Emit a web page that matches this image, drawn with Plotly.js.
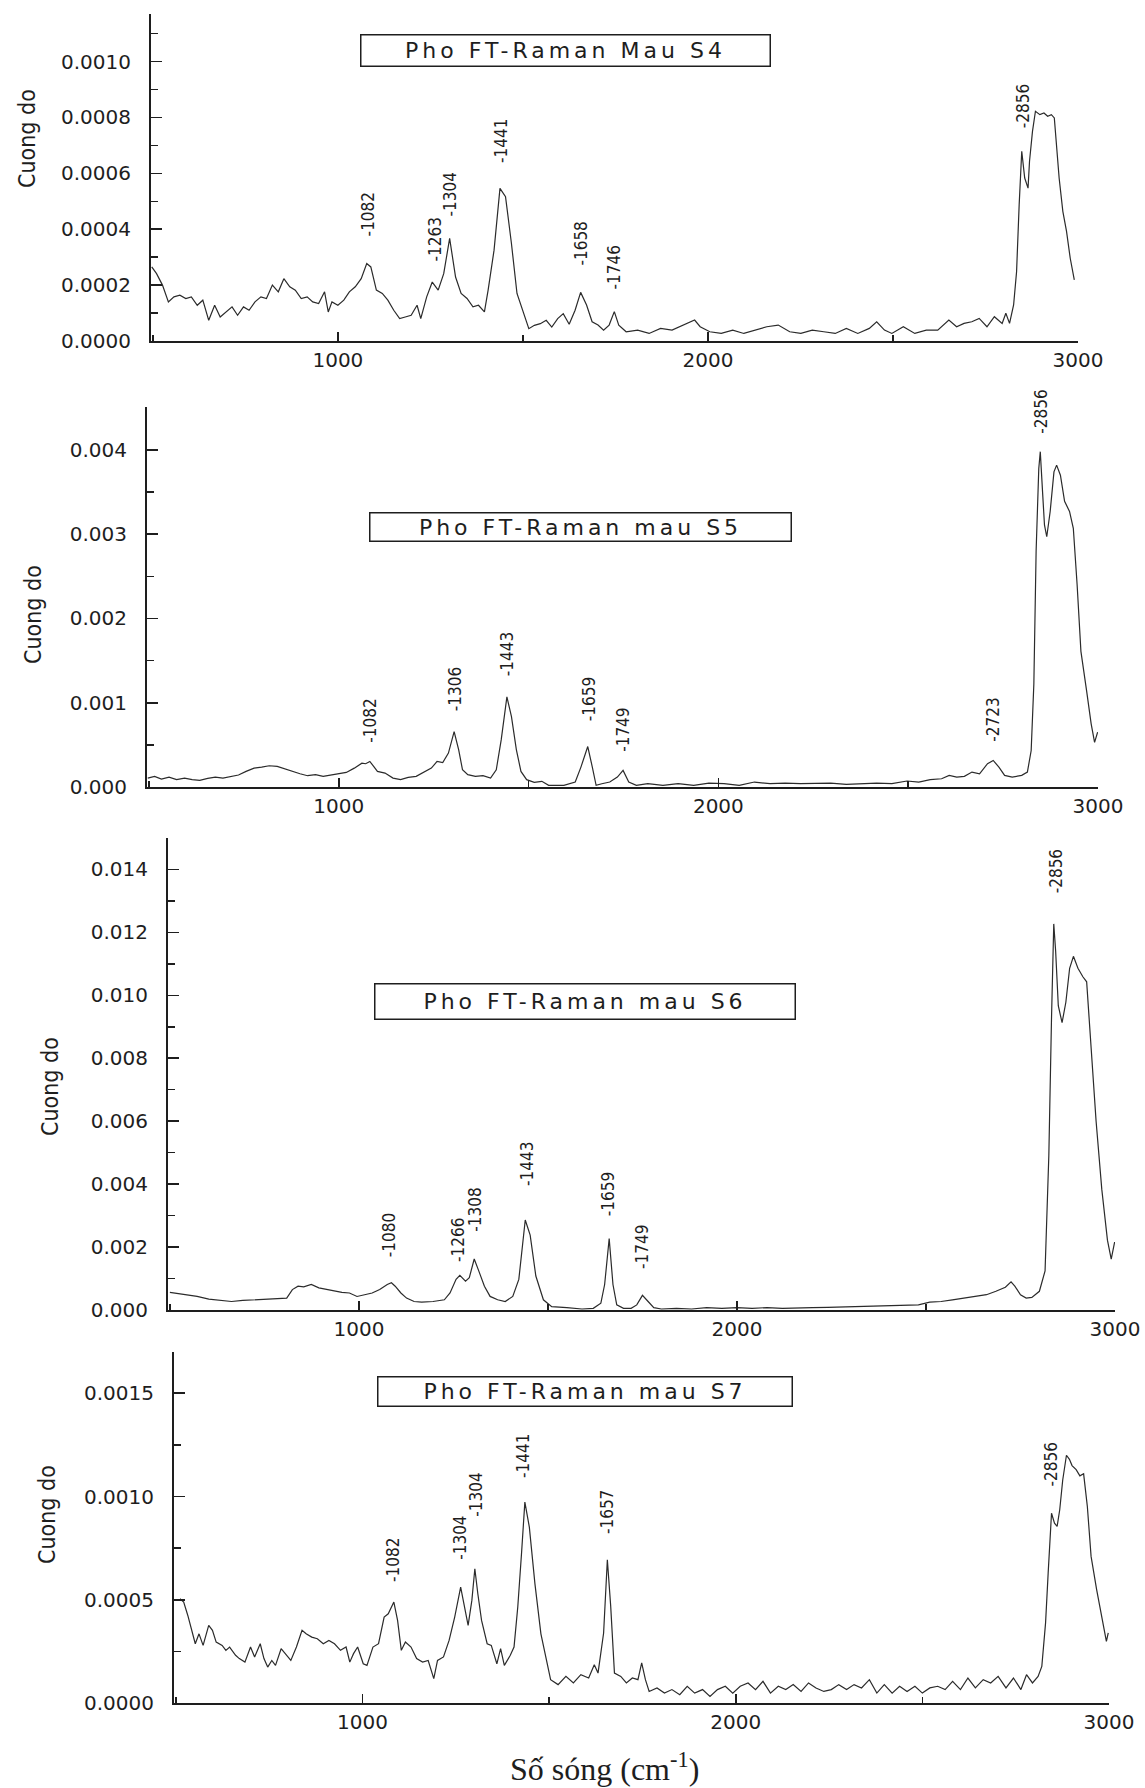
<!DOCTYPE html>
<html>
<head>
<meta charset="utf-8">
<script src="https://cdn.plot.ly/plotly-3.0.1.min.js"></script>
<style>
html,body{margin:0;padding:0;background:#ffffff;}
#chart{width:1145px;height:1788px;}
</style>
</head>
<body>
<div id="chart"></div>
<script>
// ---------------- DATA ----------------
const s4Wavenumber = [497,510,526,542,557,573,589,604,620,635,651,667,682,698,714,729,745,760,776,792,807,823,839,854,870,885,901,917,932,948,964,974,984,1000,1016,1031,1047,1063,1078,1089,1104,1120,1135,1151,1167,1182,1198,1214,1224,1240,1255,1271,1286,1302,1318,1333,1349,1365,1380,1396,1406,1422,1438,1453,1469,1484,1500,1516,1531,1547,1563,1578,1594,1609,1625,1641,1656,1672,1687,1703,1718,1733,1747,1759,1779,1810,1841,1872,1903,1933,1964,1979,2005,2036,2067,2097,2128,2159,2190,2221,2251,2282,2313,2344,2374,2405,2436,2456,2477,2497,2528,2559,2590,2621,2651,2672,2692,2713,2733,2754,2774,2795,2805,2815,2826,2834,2841,2848,2856,2865,2869,2877,2885,2897,2908,2918,2928,2936,2949,2959,2969,2979,2990];
const s4Intensity = [0.000265,0.000241,0.0002,0.00014,0.000158,0.000164,0.000152,0.000158,0.000128,0.000146,0.000074,0.000128,0.000086,0.000104,0.000122,0.000092,0.000122,0.00011,0.00014,0.000158,0.000152,0.0002,0.000176,0.000223,0.000194,0.000182,0.000152,0.000158,0.00014,0.000134,0.000176,0.000104,0.00014,0.000128,0.000146,0.000176,0.000194,0.000223,0.000277,0.000265,0.000182,0.00017,0.000146,0.00011,0.00008,0.000086,0.000092,0.000128,0.00008,0.000158,0.000211,0.000182,0.000241,0.000367,0.000229,0.00017,0.000152,0.000122,0.000128,0.000104,0.000182,0.000325,0.000546,0.000516,0.000349,0.00017,0.000104,0.000044,0.000056,0.000062,0.000074,0.00005,0.00008,0.000098,0.00006,0.00011,0.000174,0.000129,0.000069,0.000057,0.000039,0.000057,0.000105,0.000057,0.000033,0.000039,0.000027,0.000045,0.000039,0.000057,0.000075,0.000051,0.000033,0.000027,0.000039,0.000027,0.000039,0.000051,0.000057,0.000033,0.000027,0.000039,0.000033,0.000027,0.000045,0.000027,0.000045,0.000069,0.000039,0.000027,0.000051,0.000027,0.000039,0.000039,0.000075,0.000051,0.000063,0.000069,0.000081,0.000051,0.000087,0.000063,0.000099,0.000063,0.000129,0.000248,0.000487,0.000679,0.000583,0.000547,0.000643,0.00075,0.000822,0.00081,0.000816,0.000804,0.00081,0.000798,0.000583,0.000464,0.000392,0.000296,0.000219];

const s5Wavenumber = [497,515,533,553,573,594,614,634,655,675,695,716,736,756,777,797,817,838,858,878,898,918,939,959,979,1000,1020,1041,1061,1071,1082,1092,1102,1122,1143,1163,1183,1204,1224,1244,1259,1274,1289,1304,1316,1326,1340,1360,1380,1400,1415,1428,1443,1455,1468,1480,1495,1515,1535,1553,1593,1623,1638,1656,1668,1678,1693,1714,1734,1749,1764,1784,1814,1854,1894,1935,1975,2015,2055,2095,2136,2176,2216,2256,2296,2337,2377,2417,2457,2497,2528,2558,2588,2608,2628,2648,2668,2688,2709,2724,2739,2754,2774,2799,2814,2824,2831,2837,2844,2848,2854,2859,2865,2874,2884,2891,2901,2912,2925,2935,2945,2955,2970,2982,2991,2999];
const s5Intensity = [0.000106,0.000126,0.000094,0.000118,0.000087,0.000106,0.000087,0.000079,0.000102,0.000118,0.000106,0.000126,0.000142,0.000185,0.000224,0.000236,0.000252,0.000244,0.000213,0.000185,0.000157,0.000134,0.000146,0.000126,0.000142,0.000157,0.000173,0.000224,0.000283,0.000276,0.000303,0.000244,0.000185,0.000165,0.000106,0.000087,0.000114,0.000126,0.000173,0.000224,0.000303,0.000291,0.000402,0.000657,0.000441,0.000205,0.000146,0.000126,0.000134,0.000106,0.000205,0.000559,0.00107,0.000835,0.000441,0.000185,0.000087,0.000055,0.000067,0.00002,0.00002,0.000059,0.000236,0.00048,0.000236,0.00002,0.000039,0.000059,0.000118,0.000197,0.000059,0.00002,0.000039,0.00002,0.000039,0.00002,0.000047,0.000039,0.00002,0.000059,0.000039,0.000047,0.000039,0.000039,0.000047,0.000031,0.000039,0.000047,0.000039,0.000071,0.000059,0.000087,0.000098,0.000138,0.000118,0.000126,0.000177,0.000157,0.000276,0.000315,0.000236,0.000138,0.000118,0.000138,0.000177,0.000433,0.00122,0.0028,0.00378,0.00398,0.0035,0.00311,0.00297,0.00327,0.00374,0.00382,0.0037,0.00339,0.00327,0.00307,0.0024,0.00161,0.00114,0.00075,0.00053,0.00065];

const s6Wavenumber = [500,542,572,603,633,663,693,723,754,784,809,824,839,854,874,894,914,935,955,975,995,1015,1035,1055,1075,1086,1096,1111,1126,1146,1166,1196,1226,1241,1257,1267,1282,1292,1305,1317,1332,1347,1367,1387,1407,1423,1440,1453,1468,1488,1510,1550,1590,1620,1640,1650,1662,1672,1682,1700,1720,1735,1750,1765,1780,1800,1840,1880,1920,1960,2000,2040,2080,2120,2160,2200,2240,2280,2320,2360,2400,2440,2480,2510,2540,2570,2600,2630,2660,2685,2710,2725,2735,2750,2765,2780,2800,2815,2825,2832,2838,2843,2850,2860,2870,2880,2890,2902,2915,2925,2935,2950,2965,2980,2990,2999];
const s6Intensity = [0.000562,0.000486,0.000432,0.000346,0.000303,0.00027,0.000303,0.000324,0.000346,0.000346,0.000378,0.000649,0.000757,0.000735,0.000811,0.000703,0.000649,0.000595,0.000562,0.000541,0.00043,0.000486,0.000541,0.000649,0.000811,0.000865,0.000757,0.000541,0.000378,0.00027,0.000249,0.00027,0.000324,0.000541,0.000973,0.0011,0.000919,0.001027,0.00162,0.001243,0.000757,0.000432,0.000324,0.00027,0.000432,0.000973,0.00286,0.00238,0.00108,0.000324,0.000108,0.000076,0.000032,0.000054,0.000216,0.00081,0.00227,0.00081,0.000162,0.000054,0.000054,0.000162,0.000465,0.00027,0.000076,0.000032,0.000054,0.000032,0.000076,0.000054,0.000076,0.000054,0.000076,0.000054,0.000076,0.000076,0.000086,0.000097,0.000108,0.000119,0.00014,0.000162,0.000162,0.000249,0.00027,0.000324,0.000378,0.000432,0.000486,0.000595,0.000724,0.000897,0.000757,0.000486,0.000378,0.0004,0.000595,0.00124,0.00492,0.00924,0.01227,0.0114,0.00967,0.00913,0.00978,0.01086,0.01124,0.01086,0.01059,0.01043,0.0087,0.006,0.00384,0.00222,0.00162,0.00216];

const s7Wavenumber = [511,521,532,542,552,562,573,588,598,608,624,634,644,660,670,685,700,711,726,736,746,757,767,782,792,808,823,838,849,864,879,895,910,925,941,956,966,976,987,1002,1012,1028,1043,1058,1069,1084,1094,1104,1115,1130,1145,1161,1176,1191,1201,1217,1232,1247,1263,1273,1283,1293,1301,1309,1319,1334,1345,1360,1370,1380,1396,1406,1416,1426,1435,1447,1462,1478,1493,1504,1524,1545,1565,1585,1606,1621,1631,1646,1656,1665,1675,1692,1707,1723,1738,1748,1758,1768,1789,1809,1829,1850,1870,1890,1911,1931,1951,1972,1992,2012,2033,2053,2073,2093,2114,2134,2154,2175,2195,2215,2236,2256,2276,2297,2317,2337,2358,2378,2398,2419,2439,2459,2480,2500,2520,2541,2561,2581,2602,2622,2642,2663,2683,2703,2724,2744,2764,2779,2795,2810,2820,2830,2837,2846,2854,2861,2868,2876,2886,2894,2901,2912,2922,2932,2942,2952,2967,2983,2993,2998];
const s7Intensity = [0.000505,0.000489,0.000424,0.00036,0.000287,0.000335,0.000279,0.000376,0.000352,0.000295,0.000279,0.000255,0.000271,0.000231,0.000215,0.000198,0.000271,0.000223,0.000287,0.000215,0.000174,0.000206,0.000182,0.000263,0.000239,0.000206,0.000271,0.000352,0.000335,0.000319,0.000311,0.000287,0.000303,0.000287,0.000255,0.000271,0.000198,0.000239,0.000271,0.00019,0.000182,0.000271,0.000287,0.000416,0.000432,0.000489,0.0004,0.000255,0.000295,0.000271,0.000215,0.000198,0.000206,0.000118,0.000206,0.000223,0.000303,0.000416,0.000561,0.000465,0.000376,0.000497,0.00065,0.000529,0.0004,0.000287,0.000279,0.00019,0.000263,0.000182,0.000231,0.000271,0.000465,0.000723,0.000973,0.000852,0.000577,0.000335,0.000215,0.000113,0.000089,0.000129,0.000097,0.000137,0.000121,0.000185,0.000145,0.000339,0.000694,0.000468,0.000145,0.000129,0.000097,0.000121,0.000113,0.000194,0.000113,0.000056,0.000073,0.000048,0.000065,0.00004,0.000081,0.000048,0.000065,0.000032,0.000065,0.000081,0.000048,0.000081,0.000097,0.000065,0.000105,0.000048,0.000081,0.000065,0.000089,0.000056,0.000097,0.000073,0.000056,0.000065,0.000089,0.000065,0.000089,0.000073,0.000113,0.000048,0.000089,0.000048,0.000081,0.000056,0.000081,0.000048,0.000073,0.000081,0.000065,0.000105,0.000065,0.000121,0.000073,0.000113,0.000097,0.000129,0.000073,0.000121,0.000065,0.000137,0.000097,0.000129,0.000177,0.000387,0.000629,0.000919,0.000871,0.000855,0.000936,0.00108,0.0012,0.00118,0.00115,0.00113,0.0011,0.00111,0.000952,0.00071,0.000548,0.000387,0.000298,0.00034];

// peak labels (text) and the wavenumber each label marks
const s4PeakLabels = ['-1082','-1263','-1304','-1441','-1658','-1746','-2856'];
const s4PeakWavenumber = [1082,1263,1304,1441,1658,1746,2850];
const s5PeakLabels = ['-1082','-1306','-1443','-1659','-1749','-2723','-2856'];
const s5PeakWavenumber = [1082,1306,1443,1659,1749,2723,2850];
const s6PeakLabels = ['-1080','-1266','-1308','-1443','-1659','-1749','-2856'];
const s6PeakWavenumber = [1080,1262,1305,1443,1659,1749,2845];
const s7PeakLabels = ['-1082','-1304','-1304','-1441','-1657','-2856'];
const s7PeakWavenumber = [1082,1263,1304,1430,1657,2845];

const panelTitles = ['Pho FT-Raman Mau S4','Pho FT-Raman mau S5','Pho FT-Raman mau S6','Pho FT-Raman mau S7'];
const yAxisTitle = 'Cuong do';
const xAxisTitle = 'Số sóng (cm<sup>-1</sup>)';

// ---------------- LAYOUT ----------------
const W = 1145, H = 1788;
const INK = '#1e1e1e';
const TICKFONT = 'DejaVu Sans, Verdana, sans-serif';
const NARROW = 'DejaVu Sans Condensed, Liberation Sans Narrow, Arial Narrow, sans-serif';

// pixel boxes of each plot area [left, right, top, bottom]
const boxes = [
  [151, 1078, 14, 341],
  [147, 1098, 407, 787],
  [168, 1115, 838, 1310],
  [174, 1109, 1352, 1703]
];
const yRanges = [[0, 0.00117],[0, 0.00451],[0, 0.0150],[0, 0.0017]];
const yDticks = [0.0002, 0.001, 0.002, 0.0005];
const yFormats = ['.4f', '.3f', '.3f', '.4f'];
const series = [
  [s4Wavenumber, s4Intensity, s4PeakLabels, s4PeakWavenumber],
  [s5Wavenumber, s5Intensity, s5PeakLabels, s5PeakWavenumber],
  [s6Wavenumber, s6Intensity, s6PeakLabels, s6PeakWavenumber],
  [s7Wavenumber, s7Intensity, s7PeakLabels, s7PeakWavenumber]
];
// y (data units) of the foot of each rotated peak label
const labelFeet = [
  [0.000368, 0.000278, 0.00044, 0.00063, 0.000264, 0.000177, 0.000756],
  [0.0005, 0.000874, 0.00129, 0.000756, 0.000394, 0.000512, 0.00417],
  [0.00162, 0.00146, 0.00243, 0.00389, 0.00292, 0.00124, 0.01319],
  [0.000577, 0.000682, 0.000892, 0.00108, 0.000807, 0.00104]
];
// title boxes: [left, right, top, bottom] px
const titleBoxes = [
  [360, 770, 35, 67],
  [369, 791, 512, 541],
  [374, 795, 983, 1019],
  [377, 792, 1376, 1406]
];
// y-axis title centres [x, y] px
const yTitlePos = [[27, 139], [33, 615], [50, 1087], [47, 1515]];

const traces = [];
const layout = {
  width: W, height: H,
  margin: {l: 0, r: 0, t: 0, b: 0},
  paper_bgcolor: '#ffffff', plot_bgcolor: 'rgba(0,0,0,0)',
  showlegend: false,
  annotations: []
};

series.forEach((s, i) => {
  const n = i === 0 ? '' : String(i + 1);
  const b = boxes[i];
  traces.push({
    type: 'scatter', mode: 'lines',
    x: s[0], y: s[1],
    xaxis: 'x' + n, yaxis: 'y' + n,
    line: {color: '#2b2b2b', width: 1.2},
    hoverinfo: 'skip'
  });
  layout['xaxis' + n] = {
    domain: [b[0] / W, b[1] / W],
    anchor: 'y' + n,
    range: [495, 3000],
    tick0: 0, dtick: 1000,
    ticks: 'inside', ticklen: 9, tickwidth: 1.6, tickcolor: INK,
    minor: {dtick: 500, ticks: 'inside', ticklen: 6, tickwidth: 1.4, tickcolor: INK, showgrid: false},
    showline: true, linecolor: INK, linewidth: 2,
    showgrid: false, zeroline: false,
    tickfont: {family: TICKFONT, size: 20, color: INK},
    ticklabelstandoff: 0
  };
  layout['yaxis' + n] = {
    domain: [1 - b[3] / H, 1 - b[2] / H],
    anchor: 'x' + n,
    range: yRanges[i],
    tick0: 0, dtick: yDticks[i], tickformat: yFormats[i],
    ticks: 'inside', ticklen: 11, tickwidth: 1.6, tickcolor: INK,
    minor: {dtick: yDticks[i] / 2, ticks: 'inside', ticklen: 7, tickwidth: 1.4, tickcolor: INK, showgrid: false},
    showline: true, linecolor: INK, linewidth: 2,
    showgrid: false, zeroline: false,
    tickfont: {family: TICKFONT, size: 20, color: INK},
    ticklabelstandoff: 14
  };
  // peak labels
  s[2].forEach((txt, k) => {
    layout.annotations.push({
      xref: 'x' + n, yref: 'y' + n,
      x: s[3][k], y: labelFeet[i][k],
      text: txt, textangle: -90,
      xanchor: 'center', yanchor: 'bottom',
      showarrow: false,
      font: {family: NARROW, size: 17, color: INK}
    });
  });
  // title box
  const t = titleBoxes[i];
  layout.annotations.push({
    xref: 'paper', yref: 'paper',
    x: (t[0] + t[1]) / 2 / W, y: 1 - (t[2] + t[3]) / 2 / H,
    xanchor: 'center', yanchor: 'middle',
    width: t[1] - t[0] - 2, height: t[3] - t[2] - 2,
    text: '<span style="letter-spacing:4px">' + panelTitles[i] + '</span>',
    showarrow: false,
    bordercolor: INK, borderwidth: 1.5, borderpad: 0,
    font: {family: TICKFONT, size: 22, color: INK}
  });
  // y-axis title
  const p = yTitlePos[i];
  layout.annotations.push({
    xref: 'paper', yref: 'paper',
    x: p[0] / W, y: 1 - p[1] / H,
    xanchor: 'center', yanchor: 'middle',
    text: yAxisTitle, textangle: -90, showarrow: false,
    font: {family: NARROW, size: 23, color: INK}
  });
});

// bottom x-axis title
layout.annotations.push({
  xref: 'paper', yref: 'paper',
  x: 604 / W, y: 1 - 1767 / H,
  xanchor: 'center', yanchor: 'middle',
  text: xAxisTitle, showarrow: false,
  font: {family: 'Liberation Serif, Times New Roman, serif', size: 32, color: INK}
});

Plotly.newPlot('chart', traces, layout, {staticPlot: true, displayModeBar: false});
</script>
</body>
</html>
